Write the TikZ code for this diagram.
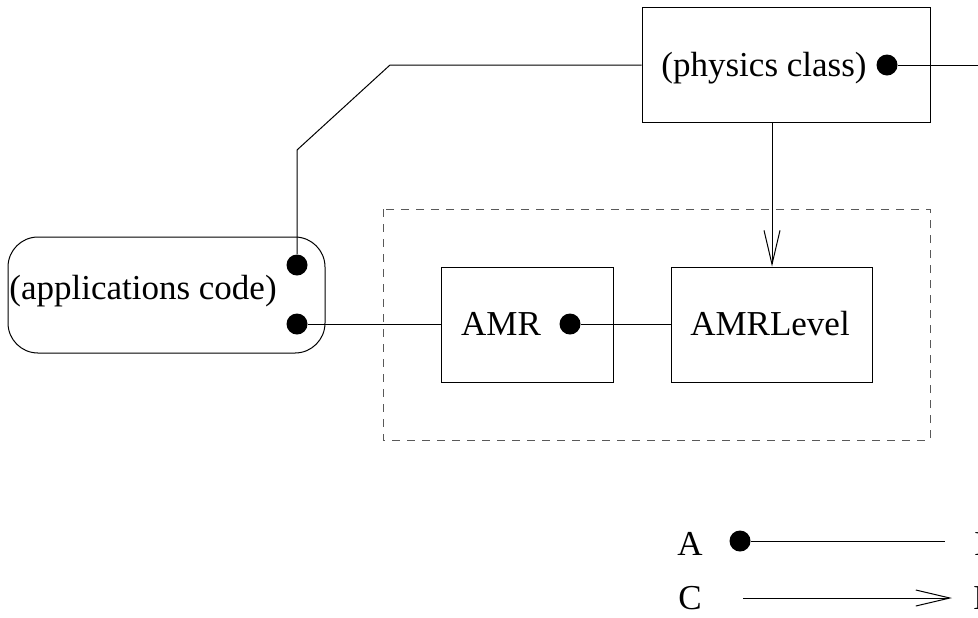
\documentclass[tikz,border=0pt]{standalone}
\usepackage{fontspec}
\setmainfont{Liberation Serif}
\usetikzlibrary{arrows.meta}

\begin{document}
\begin{tikzpicture}[
            x=0.5pt, y=-0.5pt,
            line width=0.5pt,
            font=\fontsize{17.5}{20}\selectfont,
            class box/.style={rectangle,draw,inner sep=0pt},
            code box/.style={rectangle,draw,rounded corners=15pt,inner sep=0pt},
            dot/.style={circle,fill,inner sep=0pt,minimum size=10.5pt},
            uses/.style={draw,-{Straight Barb[length=17pt,width=8pt]}},
            every edge/.style={draw},
        ]
            \useasboundingbox (0,0) rectangle (978,617);

            % boxes
            \node[class box,minimum width=144pt,minimum height=57.5pt] (phys) at (786,64.5) {};
            \node[code box,minimum width=158.5pt,minimum height=58pt] (app) at (166.5,295) {};
            \node[class box,minimum width=86pt,minimum height=57.5pt] (amr) at (527,324.5) {};
            \node[class box,minimum width=100.5pt,minimum height=57.5pt] (level) at (771.5,324.5) {};
            \draw[dashed,dash pattern=on 4pt off 3.5pt,gray!70!black] (383,209) rectangle (930,440);

            % texts
            \node (physlabel) at (764,68) {(physics class)};
            \node (applabel) at (143,291) {(applications code)};
            \node (amrlabel) at (501,324) {AMR};
            \node (levellabel) at (770,324) {AMRLevel};

            % dots
            \node[dot] (physdot) at (887,65) {};
            \node[dot] (appdot1) at (297,265) {};
            \node[dot] (appdot2) at (297,324) {};
            \node[dot] (amrdot) at (570,324) {};

            \coordinate (physout) at (978,65);
            \coordinate (bend1) at (390,65);
            \coordinate (bend2) at (297,150);

            \path (physdot) edge (physout);
            \draw (phys.west |- physdot) -- (bend1) -- (bend2) -- (appdot1);
            \path (appdot2) edge (amr.west |- appdot2);
            \path (amrdot) edge (level.west |- amrdot);
            \path[uses] (phys.south -| 772,0) -- (level.north -| 772,0);

            % legend
            \node (la) at (690,544) {A};
            \node (lb) at (986,544) {B};
            \node (lc) at (690,598) {C};
            \node (ld) at (986,598) {D};
            \node[dot] (legdot) at (740,541) {};
            \coordinate (legend1) at (945,541);
            \coordinate (legend2a) at (743,598);
            \coordinate (legend2b) at (952,598);
            \path (legdot) edge (legend1);
            \path[uses] (legend2a) -- (legend2b);
        \end{tikzpicture}
\end{document}
